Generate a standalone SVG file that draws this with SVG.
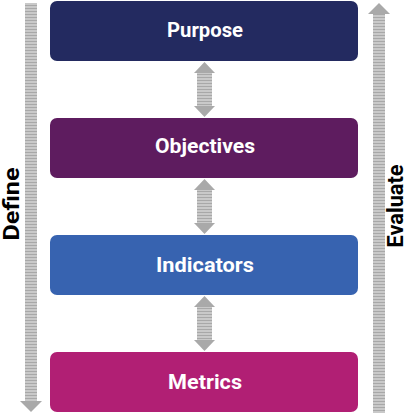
<svg xmlns="http://www.w3.org/2000/svg" width="408" height="413" viewBox="0 0 408 413">
<style>
.lbl{font-family:Roboto,"Liberation Sans",sans-serif;font-weight:bold;font-size:21px;fill:#fff;text-anchor:middle;}
.side{font-family:Roboto,"Liberation Sans",sans-serif;font-weight:bold;font-size:22px;fill:#000;text-anchor:middle;}
.bar{fill:url(#stripes);}
.head{fill:#a9a9a9;}
</style>
<defs>
<pattern id="stripes" x="0" y="0" width="4" height="3" patternUnits="userSpaceOnUse">
<rect x="0" y="0" width="4" height="3" fill="#c9c9c9"/>
<rect x="0" y="2" width="4" height="1" fill="#a8a8a8"/>
</pattern>
</defs>
<rect width="408" height="413" fill="#fff"/>
<g id="connectors">
<g id="define-arrow">
<rect class="bar" x="25" y="3" width="12" height="399"/>
<polygon class="head" points="20,401 42,401 31,412"/>
</g>
<g id="evaluate-arrow">
<rect class="bar" x="373" y="14" width="12" height="399"/>
<polygon class="head" points="368,14 390,14 379,3"/>
</g>
<g id="arrow-1">
<rect class="bar" x="197" y="72" width="15" height="35"/>
<polygon class="head" points="194,73 215,73 204.5,62"/>
<polygon class="head" points="194,106 215,106 204.5,117"/>
</g>
<g id="arrow-2">
<rect class="bar" x="197" y="189" width="15" height="35"/>
<polygon class="head" points="194,190 215,190 204.5,179"/>
<polygon class="head" points="194,223 215,223 204.5,234"/>
</g>
<g id="arrow-3">
<rect class="bar" x="197" y="306" width="15" height="35"/>
<polygon class="head" points="194,307 215,307 204.5,296"/>
<polygon class="head" points="194,340 215,340 204.5,351"/>
</g>
</g>
<g id="purpose">
<rect x="50" y="1" width="308" height="60" rx="7" fill="#232a60"/>
<text class="lbl" x="205" y="37" textLength="76" lengthAdjust="spacingAndGlyphs">Purpose</text>
</g>
<g id="objectives">
<rect x="50" y="118" width="308" height="60" rx="7" fill="#5e1c5f"/>
<text class="lbl" x="205" y="153" textLength="100" lengthAdjust="spacingAndGlyphs">Objectives</text>
</g>
<g id="indicators">
<rect x="50" y="235" width="308" height="60" rx="7" fill="#3763b0"/>
<text class="lbl" x="205" y="272" textLength="98" lengthAdjust="spacingAndGlyphs">Indicators</text>
</g>
<g id="metrics">
<rect x="50" y="352" width="308" height="60" rx="7" fill="#b11f74"/>
<text class="lbl" x="205" y="389" textLength="74" lengthAdjust="spacingAndGlyphs">Metrics</text>
</g>
<g id="define">
<text class="side" transform="translate(19,204) rotate(-90)" textLength="73" lengthAdjust="spacingAndGlyphs">Define</text>
</g>
<g id="evaluate">
<text class="side" transform="translate(403,206) rotate(-90)" textLength="83" lengthAdjust="spacingAndGlyphs">Evaluate</text>
</g>
</svg>
